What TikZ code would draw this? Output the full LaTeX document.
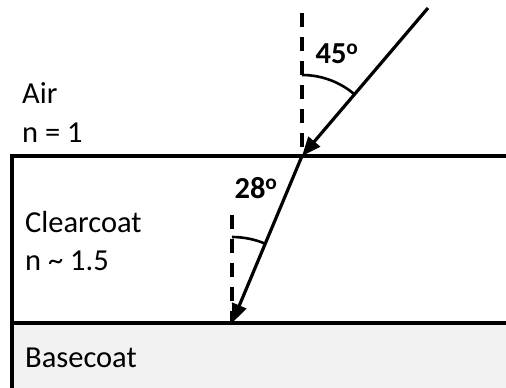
\documentclass[tikz,border=0pt]{standalone}
\usepackage{fontspec}
\setmainfont{Carlito}
\usetikzlibrary{arrows.meta}
\begin{document}
\begin{tikzpicture}[x=1pt,y=1pt,
  edge/.style={line width=3.2pt},
  ray/.style={line width=3.2pt,-{Triangle[length=19pt,width=15pt]}},
  normal/.style={line width=3.4pt,dash pattern=on 14pt off 10pt},
  anglearc/.style={line width=2.6pt},
  lbl/.style={font=\fontsize{30.5}{36}\selectfont,anchor=west,inner sep=0pt},
  anglbl/.style={font=\fontsize{30.5}{36}\selectfont\bfseries,inner sep=0pt}]
\useasboundingbox (0,0) rectangle (506,388);
% layers
\fill[black!5] (12,0) rectangle (506,65);
\coordinate (TL) at (12,232);
\coordinate (TR) at (507,232);
\coordinate (BL) at (12,65);
\coordinate (BR) at (507,65);
\coordinate (Bot) at (12,-2);
\draw[edge] (TR) -- (TL) -- (Bot);
\draw[edge] (BL) -- (BR);
% points
\coordinate (S) at (428,380);
\coordinate (P) at (302,232);
\coordinate (Q) at (232,65);
\coordinate (N1) at (302,375);
\coordinate (N2) at (232,173);
% normals
\draw[normal] (N1) -- (P);
\draw[normal] (N2) -- (Q);
% rays
\draw[ray] (S) -- (P);
\draw[ray] (P) -- (Q);
% arcs
\draw[anglearc] (P) ++(90:81) arc[start angle=90,end angle=49.6,radius=81];
\draw[anglearc] (Q) ++(90:86) arc[start angle=90,end angle=67.3,radius=86];
% labels
\node[anglbl] (a45) at (337,334) {45\textsuperscript{o}};
\node[anglbl] (a28) at (256,200) {28\textsuperscript{o}};
\node[lbl] (air) at (22,295) {Air};
\node[lbl] (n1) at (22,255) {n = 1};
\node[lbl] (cc) at (25,166) {Clearcoat};
\node[lbl] (n15) at (25,127) {n \textasciitilde{} 1.5};
\node[lbl] (bc) at (25,30) {Basecoat};
\end{tikzpicture}
\end{document}
